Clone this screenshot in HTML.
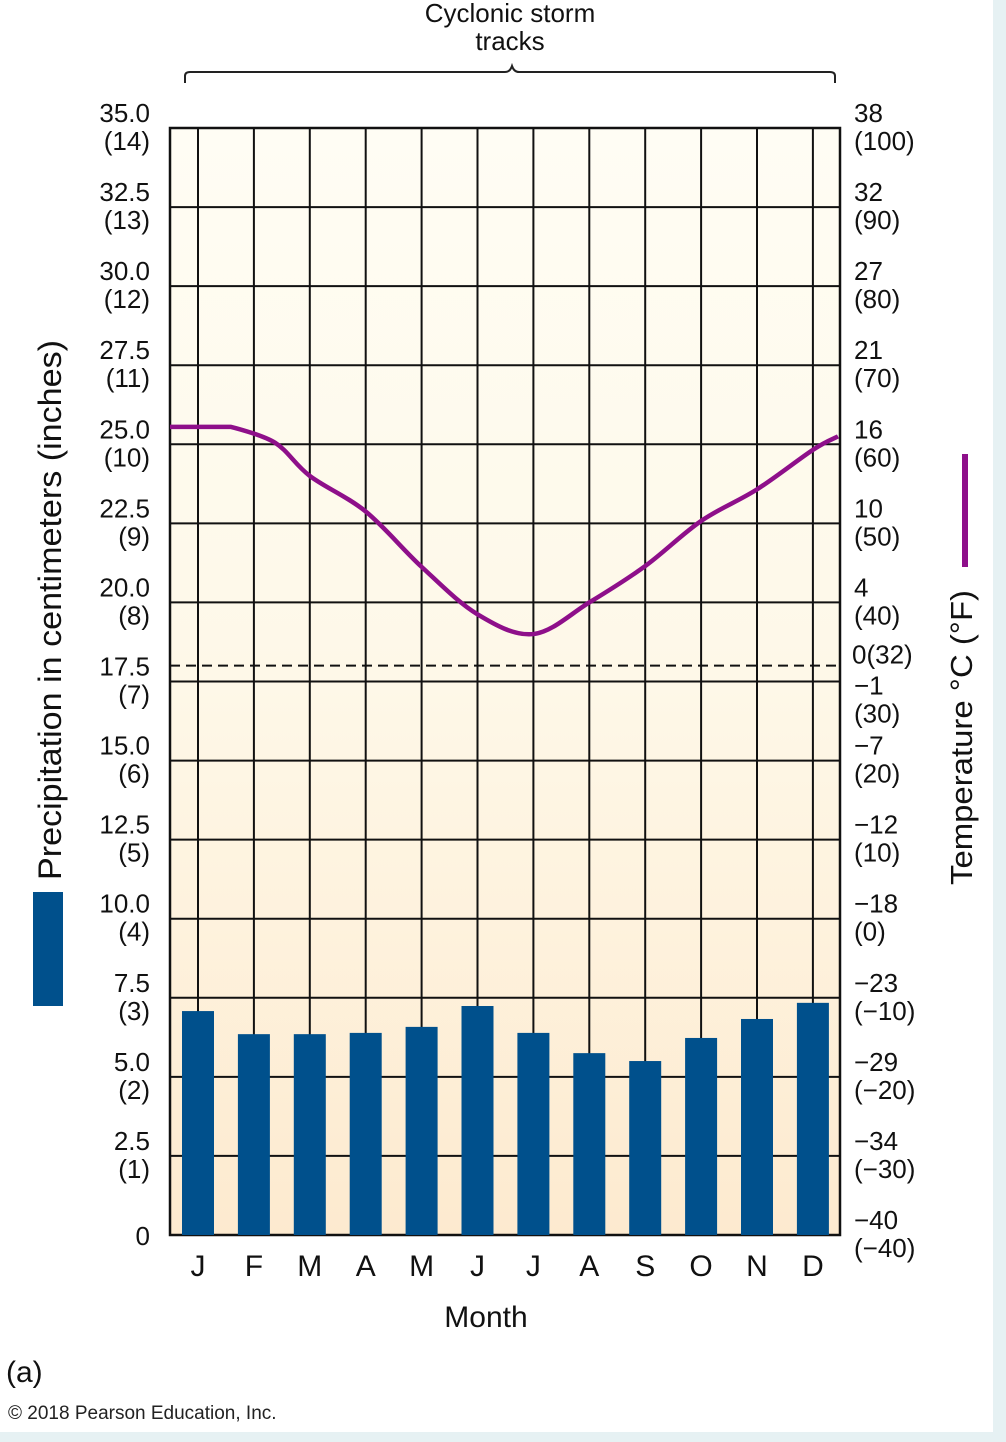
<!DOCTYPE html>
<html><head><meta charset="utf-8"><style>
html,body{margin:0;padding:0;background:#e6f1f3;}
svg{display:block;font-family:"Liberation Sans",sans-serif;}
</style></head><body>
<svg id="chart" width="1006" height="1442" viewBox="0 0 1006 1442">
<defs>
<linearGradient id="bg" x1="0" y1="0" x2="0" y2="1"><stop offset="0" stop-color="#fffdf4"/><stop offset="0.5" stop-color="#fef8e8"/><stop offset="1" stop-color="#fdeacf"/></linearGradient>
</defs>
<rect x="0" y="0" width="993" height="1432" fill="#ffffff"/>
<rect x="170" y="128" width="670" height="1107" fill="url(#bg)"/>
<g id="grid"></g>
<g id="bars"></g>
<g id="line"></g>
<g id="labels"></g>
<path d="M185,83 V76 Q185,72 190,72 H505 Q510,72 512,66 Q514,72 519,72 H830 Q835,72 835,76 V83" fill="none" stroke="#222" stroke-width="2"/>
<text x="510" y="22" font-size="26" text-anchor="middle" fill="#111">Cyclonic storm</text>
<text x="510" y="50" font-size="26" text-anchor="middle" fill="#111">tracks</text>
<text x="486" y="1327" font-size="30" text-anchor="middle" fill="#111">Month</text>
<text transform="translate(61,880) rotate(-90)" font-size="32" fill="#111" textLength="540" lengthAdjust="spacingAndGlyphs">Precipitation in centimeters (inches)</text>
<rect x="33" y="892" width="30" height="114" fill="#00508c"/>
<text transform="translate(972,885) rotate(-90)" font-size="31" fill="#111" textLength="295" lengthAdjust="spacingAndGlyphs">Temperature °C (°F)</text>
<rect x="962" y="454" width="6" height="113" fill="#8e0f8a"/>
<text x="6" y="1382" font-size="30" fill="#111">(a)</text>
<text x="8" y="1419" font-size="19" fill="#222">© 2018 Pearson Education, Inc.</text>
</svg>
<script>
const months=["J","F","M","A","M","J","J","A","S","O","N","D"];
const precipCm=[7.08,6.35,6.35,6.39,6.58,7.24,6.39,5.75,5.5,6.23,6.83,7.34];
const tempF=[62.2,60.2,56.0,51.5,44.5,38.5,36.0,40.0,44.6,50.3,54.3,59.3];
const tempStartF=62.2, tempEndF=61.0;
const leftTicks=["0","2.5\n(1)","5.0\n(2)","7.5\n(3)","10.0\n(4)","12.5\n(5)","15.0\n(6)","17.5\n(7)","20.0\n(8)","22.5\n(9)","25.0\n(10)","27.5\n(11)","30.0\n(12)","32.5\n(13)","35.0\n(14)"];
const rightTicks=["\u221240\n(\u221240)","\u221234\n(\u221230)","\u221229\n(\u221220)","\u221223\n(\u221210)","\u221218\n(0)","\u221212\n(10)","\u22127\n(20)","\u22121\n(30)","4\n(40)","10\n(50)","16\n(60)","21\n(70)","27\n(80)","32\n(90)","38\n(100)"];
const NS="http://www.w3.org/2000/svg";
const X0=170,X1=840,Y0=1235,Y1=128;
const yP=v=>Y0-(v/35)*(Y0-Y1);
const yF=f=>Y1+(100-f)/140*(Y0-Y1);
const xM=i=>198+i*55.9;
function mk(tag,attrs,parent){const e=document.createElementNS(NS,tag);for(const k in attrs)e.setAttribute(k,attrs[k]);parent.appendChild(e);return e;}
const grid=document.getElementById('grid'),bars=document.getElementById('bars'),line=document.getElementById('line'),labels=document.getElementById('labels');
for(let i=0;i<leftTicks.length;i++){
  const y=yP(i*2.5);
  const l=mk('line',{x1:X0,x2:X1,y1:y,y2:y,stroke:'#111','stroke-width':2},grid);
  
  
}
for(let i=0;i<months.length;i++){
  const l=mk('line',{x1:xM(i),x2:xM(i),y1:Y1,y2:Y0,stroke:'#111','stroke-width':2},grid);
  
  
}
const border=mk('rect',{x:X0,y:Y1,width:X1-X0,height:Y0-Y1,fill:'none',stroke:'#111','stroke-width':2.5},grid);


const dash=mk('line',{x1:X0,x2:X1,y1:yF(32),y2:yF(32),stroke:'#111','stroke-width':2,'stroke-dasharray':'10,6'},grid);


precipCm.forEach((v,i)=>{
  const r=mk('rect',{x:xM(i)-16,y:yP(v),width:32,height:Y0-yP(v),fill:'#00508c'},bars);
  
  
  const t=mk('text',{x:xM(i),y:1276,'font-size':30,'text-anchor':'middle',fill:'#111'},labels);
  t.textContent=months[i];
  
  
});
// temperature line via catmull-rom
const pts=[[X0,yF(tempStartF)],[231,yF(tempStartF)]].concat(tempF.slice(1).map((f,i)=>[i===0?275:xM(i+1),yF(f)])).concat([[838,yF(tempEndF)]]);
let d='M'+pts[0][0]+','+pts[0][1]+' L'+pts[1][0]+','+pts[1][1];
for(let i=1;i<pts.length-1;i++){
  const p0=pts[i-1],p1=pts[i],p2=pts[i+1],p3=pts[Math.min(i+2,pts.length-1)];
  const k=i===1?0:1;
  const c1=[p1[0]+k*(p2[0]-p0[0])/6,p1[1]+k*(p2[1]-p0[1])/6],c2=[p2[0]-(p3[0]-p1[0])/6,p2[1]-(p3[1]-p1[1])/6];
  d+=` C${c1[0]},${c1[1]} ${c2[0]},${c2[1]} ${p2[0]},${p2[1]}`;
}
const tl=mk('path',{d:d,fill:'none',stroke:'#8e0f8a','stroke-width':4.5,'stroke-linejoin':'round'},line);


function twoLine(txt,x,y,anchor,name){
  const parts=txt.split('\n');
  const t=mk('text',{'font-size':26,'text-anchor':anchor,fill:'#111'},labels);
  
  
  parts.forEach((p,k)=>{const s=mk('tspan',{x:x,y:y+k*28},t);s.textContent=p;});
}
leftTicks.forEach((s,i)=>{const y=yP(i*2.5);twoLine(s,150,i===0?y+10:y-6,'end','left-tick-label');});
rightTicks.forEach((s,i)=>{const y=yF(-40+i*10);twoLine(s,854,i===7?y+13:y-6,'start','right-tick-label');});
const z=mk('text',{x:852,y:yF(32)-2,'font-size':26,fill:'#111'},labels);
z.textContent='0(32)';


</script>
</body></html>
